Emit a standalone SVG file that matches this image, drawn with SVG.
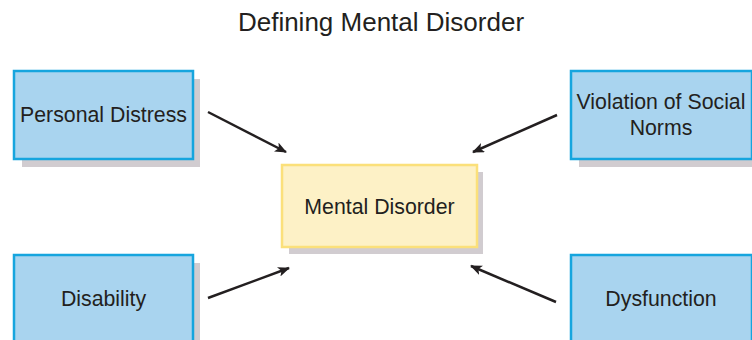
<svg xmlns="http://www.w3.org/2000/svg" width="752" height="340" viewBox="0 0 752 340">
  <defs>
    <marker id="head" viewBox="0 0 12 10" refX="11" refY="5" markerWidth="12" markerHeight="10" markerUnits="userSpaceOnUse" orient="auto">
      <path d="M0,0 L12,5 L0,10 L3,5 Z" fill="#231f20"/>
    </marker>
  </defs>
  <style>
    text { font-family: "Liberation Sans", Arial, sans-serif; fill: #231f20; text-anchor: middle; }
    .title { font-size: 26px; }
    .lbl { font-size: 21.3px; }
    .shadow { fill: #d1ccd0; }
    .blue { fill: #a9d4ef; stroke: #16a5de; stroke-width: 2.5; }
    .yellow { fill: #fdf1c6; stroke: #fbe07a; stroke-width: 2.5; }
    .conn { stroke: #231f20; stroke-width: 2.5; fill: none; marker-end: url(#head); }
  </style>
  <rect width="752" height="340" fill="#ffffff"/>
  <text class="title" x="381" y="31">Defining Mental Disorder</text>

  <g id="personal-distress">
    <rect class="shadow" x="22" y="79" width="178" height="88"/>
    <rect class="blue" x="14" y="71" width="179" height="88"/>
    <text class="lbl" x="103.5" y="122">Personal Distress</text>
  </g>

  <g id="violation-of-social-norms">
    <rect class="shadow" x="579" y="79" width="180" height="88"/>
    <rect class="blue" x="571" y="71" width="181" height="88"/>
    <text class="lbl" x="661" y="109">Violation of Social</text>
    <text class="lbl" x="661" y="135">Norms</text>
  </g>

  <g id="mental-disorder">
    <rect class="shadow" x="289" y="172" width="194" height="82"/>
    <rect class="yellow" x="282" y="165" width="195" height="82"/>
    <text class="lbl" x="379.5" y="214">Mental Disorder</text>
  </g>

  <g id="disability">
    <rect class="shadow" x="22" y="263" width="178" height="90"/>
    <rect class="blue" x="14" y="255" width="179" height="90"/>
    <text class="lbl" x="103.5" y="306">Disability</text>
  </g>

  <g id="dysfunction">
    <rect class="shadow" x="579" y="263" width="180" height="90"/>
    <rect class="blue" x="571" y="255" width="181" height="90"/>
    <text class="lbl" x="661" y="306">Dysfunction</text>
  </g>

  <g id="connectors">
    <line class="conn" x1="208" y1="112" x2="286" y2="152"/>
    <line class="conn" x1="557" y1="115" x2="473" y2="152"/>
    <line class="conn" x1="208" y1="298" x2="289" y2="268"/>
    <line class="conn" x1="556" y1="302" x2="471" y2="266"/>
  </g>
</svg>
